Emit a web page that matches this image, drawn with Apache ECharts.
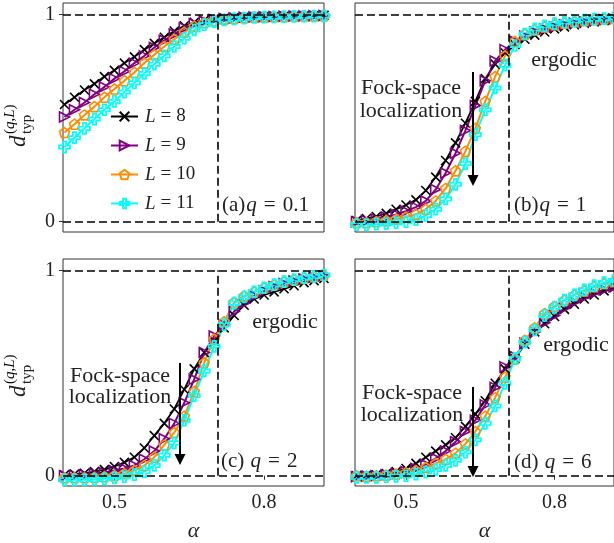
<!DOCTYPE html>
<html>
<head>
<meta charset="utf-8">
<script src="https://cdn.jsdelivr.net/npm/echarts@6/dist/echarts.min.js"></script>
<style>
html,body{margin:0;padding:0;background:#fff;}
#chart{width:614px;height:543px;}
</style>
</head>
<body>
<div id="chart"></div>
<script>
// ---------------- data ----------------
const alpha = [0.40,0.42,0.44,0.46,0.48,0.50,0.52,0.54,0.56,0.58,0.60,0.62,0.64,0.66,0.68,0.70,0.72,0.74,0.76,0.78,0.80,0.82,0.84,0.86,0.88,0.90,0.92];
const seriesNames = ['L = 8','L = 9','L = 10','L = 11'];
const xTicks = [0.5, 0.8];
const yTicks = [0, 1];
const alphaC = 0.7071;

// (a) q = 0.1
const aL8  = [0.565,0.60,0.635,0.665,0.70,0.73,0.765,0.795,0.83,0.86,0.89,0.92,0.945,0.962,0.972,0.978,0.982,0.985,0.987,0.988,0.989,0.990,0.991,0.992,0.993,0.994,0.995];
const aL9  = [0.505,0.54,0.575,0.615,0.65,0.69,0.725,0.765,0.80,0.84,0.875,0.905,0.935,0.955,0.968,0.975,0.98,0.983,0.986,0.988,0.989,0.99,0.991,0.992,0.993,0.994,0.995];
const aL10 = [0.43,0.47,0.515,0.555,0.60,0.64,0.68,0.72,0.765,0.805,0.845,0.88,0.915,0.943,0.96,0.97,0.977,0.981,0.984,0.986,0.988,0.989,0.99,0.991,0.992,0.993,0.994];
const aL11 = [0.36,0.405,0.45,0.495,0.54,0.58,0.625,0.67,0.715,0.76,0.80,0.845,0.885,0.925,0.95,0.965,0.973,0.978,0.982,0.985,0.987,0.988,0.989,0.99,0.991,0.992,0.993];
// (b) q = 1
const bL8  = [0.005,0.015,0.025,0.04,0.06,0.08,0.105,0.15,0.215,0.295,0.38,0.475,0.58,0.69,0.76,0.815,0.855,0.88,0.90,0.915,0.93,0.94,0.95,0.958,0.964,0.97,0.975];
const bL9  = [0.0,0.005,0.012,0.022,0.035,0.05,0.07,0.10,0.155,0.235,0.33,0.44,0.56,0.68,0.775,0.83,0.87,0.895,0.915,0.93,0.94,0.95,0.958,0.965,0.97,0.975,0.978];
const bL10 = [-0.005,-0.005,0.0,0.005,0.012,0.022,0.035,0.06,0.10,0.16,0.245,0.34,0.45,0.58,0.70,0.80,0.87,0.905,0.925,0.94,0.95,0.958,0.965,0.97,0.975,0.978,0.981];
const bL11 = [-0.015,-0.015,-0.012,-0.01,-0.005,0.0,0.01,0.03,0.06,0.11,0.18,0.28,0.42,0.54,0.645,0.755,0.85,0.905,0.93,0.945,0.955,0.962,0.968,0.973,0.977,0.98,0.983];
// (c) q = 2
const cL8  = [0.005,0.008,0.012,0.02,0.03,0.045,0.065,0.09,0.135,0.195,0.255,0.325,0.42,0.52,0.60,0.655,0.72,0.78,0.83,0.86,0.88,0.895,0.91,0.925,0.94,0.95,0.96];
const cL9  = [0.0,0.002,0.005,0.01,0.015,0.025,0.035,0.05,0.08,0.12,0.18,0.255,0.355,0.47,0.60,0.68,0.735,0.80,0.84,0.875,0.90,0.92,0.935,0.948,0.958,0.966,0.972];
const cL10 = [-0.01,-0.01,-0.01,-0.008,-0.005,0.0,0.01,0.025,0.05,0.09,0.15,0.21,0.29,0.41,0.55,0.665,0.75,0.845,0.875,0.895,0.915,0.93,0.945,0.955,0.963,0.97,0.976];
const cL11 = [-0.02,-0.02,-0.02,-0.018,-0.015,-0.01,-0.005,0.005,0.02,0.05,0.10,0.16,0.27,0.39,0.51,0.63,0.735,0.84,0.87,0.895,0.915,0.93,0.945,0.955,0.963,0.97,0.977];
// (d) q = 6
const dL8  = [0.0,0.002,0.005,0.01,0.02,0.035,0.06,0.09,0.12,0.15,0.185,0.24,0.30,0.365,0.45,0.52,0.57,0.64,0.70,0.74,0.775,0.81,0.835,0.86,0.88,0.90,0.915];
const dL9  = [-0.005,-0.002,0.0,0.005,0.01,0.02,0.035,0.055,0.085,0.12,0.165,0.215,0.27,0.345,0.43,0.53,0.58,0.645,0.70,0.745,0.78,0.815,0.845,0.87,0.89,0.905,0.92];
const dL10 = [0.0,-0.003,0.0,0.003,0.008,0.015,0.025,0.04,0.06,0.08,0.11,0.155,0.215,0.29,0.38,0.48,0.57,0.66,0.72,0.79,0.825,0.855,0.88,0.90,0.92,0.935,0.945];
const dL11 = [-0.008,-0.008,-0.008,-0.005,-0.003,0.0,0.008,0.018,0.03,0.05,0.075,0.115,0.175,0.255,0.34,0.45,0.57,0.65,0.71,0.78,0.82,0.855,0.88,0.905,0.925,0.94,0.95];

// ---------------- styling ----------------
const FONT = '"Liberation Serif", "DejaVu Serif", serif';
const markerStyles = [
  {color:'#000000', symbol:'path://M0,0L10,10M10,0L0,10', size:9, lw:1.8, bw:1.6},
  {color:'#800080', symbol:'path://M0,0L10,5L0,10Z', size:10, lw:2, bw:1.6},
  {color:'#ff8c00', symbol:'path://M5,0L10,3.8L8.1,10L1.9,10L0,3.8Z', size:10, lw:2, bw:1.6},
  {color:'#00ffff', symbol:'path://M3.5,0H6.5V3.5H10V6.5H6.5V10H3.5V6.5H0V3.5H3.5Z', size:11, lw:2, bw:1.7}
];

const panels = [
  {grid:{left:63, top:3, width:261, height:229}, data:[aL8,aL9,aL10,aL11], xLabels:false, yLabels:true},
  {grid:{left:355, top:3, width:261, height:229}, data:[bL8,bL9,bL10,bL11], xLabels:false, yLabels:false},
  {grid:{left:63, top:259, width:261, height:230}, data:[cL8,cL9,cL10,cL11], xLabels:true, yLabels:true},
  {grid:{left:355, top:259, width:261, height:230}, data:[dL8,dL9,dL10,dL11], xLabels:true, yLabels:false}
];

const grids = [], xAxes = [], yAxes = [], series = [];
panels.forEach((p, pi) => {
  grids.push(Object.assign({show:true, borderColor:'#333', borderWidth:1, backgroundColor:'transparent'}, p.grid));
  xAxes.push({
    type:'value', gridIndex:pi, min:0.397, max:0.92,
    axisLine:{show:false},
    axisTick:{show:p.xLabels, customValues:xTicks, length:4, lineStyle:{color:'#333'}},
    axisLabel:{show:p.xLabels, customValues:xTicks, formatter:v=>String(v), fontFamily:FONT, fontSize:20, color:'#222', margin:7},
    splitLine:{show:false},
    name: p.xLabels ? 'α' : '', nameLocation:'middle', nameGap:34,
    nameTextStyle:{fontFamily:FONT, fontStyle:'italic', fontSize:22, color:'#222'}
  });
  yAxes.push({
    type:'value', gridIndex:pi, min:-0.05, max:1.055,
    axisLine:{show:false},
    axisTick:{show:p.yLabels, customValues:yTicks, length:4, lineStyle:{color:'#333'}},
    axisLabel:{show:p.yLabels, customValues:yTicks, formatter:v=>String(v), fontFamily:FONT, fontSize:20, color:'#222', margin:8},
    splitLine:{show:false}
  });
  p.data.forEach((vals, si) => {
    const st = markerStyles[si];
    const s = {
      type:'line', name:seriesNames[si], xAxisIndex:pi, yAxisIndex:pi,
      data: alpha.map((a,i)=>[a, vals[i]]),
      symbol: st.symbol, symbolSize: st.size, showAllSymbol:true,
      lineStyle:{color:st.color, width:st.lw},
      itemStyle:{color:'rgba(255,255,255,0)', borderColor:st.color, borderWidth:st.bw},
      emphasis:{disabled:true},
      animation:false
    };
    if (si === 3) {
      s.markLine = {
        silent:true, symbol:'none', animation:false,
        label:{show:false},
        lineStyle:{color:'#000', type:[8,4], width:1.6},
        emphasis:{disabled:true},
        data:[{yAxis:0},{yAxis:1},[{coord:[alphaC,0]},{coord:[alphaC,1]}]]
      };
      s.z = 3;
    }
    series.push(s);
  });
});

function txt(x, y, text, size, extra) {
  return Object.assign({type:'text', x:x, y:y, silent:true, z:100,
    style:{text:text, font: size+'px '+FONT, fill:'#222', align:'center', verticalAlign:'middle', textAlign:'center', textVerticalAlign:'middle'}}, extra||{});
}
function richTxt(x, y, text, rich, align) {
  return {type:'text', x:x, y:y, silent:true, z:100,
    style:{text:text, rich:rich, fill:'#222', align:align||'left', verticalAlign:'middle', textAlign:align||'left', textVerticalAlign:'middle'}};
}
const qRich = {
  n:{fontFamily:FONT, fontSize:21, color:'#222'},
  i:{fontFamily:FONT, fontSize:21, fontStyle:'italic', color:'#222', padding:[0,0,0,1]},
  e:{fontFamily:FONT, fontSize:21, color:'#222', padding:[0,7,0,7]}
};
function yTitle(x, y) {
  return {type:'group', x:x, y:y, rotation:Math.PI/2, silent:true, z:100, children:[
    {type:'text', x:0, y:0, style:{text:'d', font:'italic 23px '+FONT, fill:'#222', align:'left', verticalAlign:'middle', textAlign:'left', textVerticalAlign:'middle'}},
    {type:'text', x:13, y:8, style:{text:'typ', font:'15px '+FONT, fill:'#222', align:'left', verticalAlign:'middle', textAlign:'left', textVerticalAlign:'middle'}},
    {type:'text', x:13, y:-9, style:{text:'{n|(}{i|q}{n|,}{i|L}{n|)}', rich:{n:{fontFamily:FONT,fontSize:15,color:'#222'}, i:{fontFamily:FONT,fontSize:15,fontStyle:'italic',color:'#222'}}, align:'left', verticalAlign:'middle', textAlign:'left', textVerticalAlign:'middle'}}
  ]};
}
function arrow(x, y1, y2) {
  return [
    {type:'line', silent:true, z:100, shape:{x1:x, y1:y1, x2:x, y2:y2-10}, style:{stroke:'#000', lineWidth:2}},
    {type:'polygon', silent:true, z:100, shape:{points:[[x-5.5,y2-11],[x+5.5,y2-11],[x,y2]]}, style:{fill:'#000'}}
  ];
}

const graphic = [
  yTitle(19, 147),
  yTitle(19, 397),
  richTxt(222, 205, '{n|(a)}{i|q}{e|=}{n|0.1}', qRich),
  richTxt(514, 205, '{n|(b)}{i|q}{e|=}{n|1}', qRich),
  richTxt(221, 461, '{n|(c) }{i|q}{e|=}{n|2}', qRich),
  richTxt(514, 462, '{n|(d) }{i|q}{e|=}{n|6}', qRich),
  txt(564, 60, 'ergodic', 22),
  txt(285, 322, 'ergodic', 22),
  txt(576, 345, 'ergodic', 22),
  txt(411, 88, 'Fock-space', 22),
  txt(411, 111, 'localization', 22),
  txt(120, 376, 'Fock-space', 22),
  txt(120, 397, 'localization', 22),
  txt(412, 393, 'Fock-space', 22),
  txt(412, 415, 'localization', 22)
].concat(arrow(473, 72, 186), arrow(180, 363, 465), arrow(473, 387, 477));

const chart = echarts.init(document.getElementById('chart'), null, {renderer:'canvas'});
chart.setOption({
  animation:false,
  backgroundColor:'#fff',
  grid:grids, xAxis:xAxes, yAxis:yAxes, series:series,
  legend:{
    show:true, orient:'vertical', left:105, top:102,
    itemWidth:27, itemHeight:12, itemGap:10,
    selectedMode:false,
    data:seriesNames,
    formatter: name => '{i|L}{e|=}{n|' + name.split('= ')[1] + '}',
    textStyle:{rich:{
      i:{fontFamily:FONT, fontSize:19, fontStyle:'italic', color:'#222', padding:[0,0,0,2]},
      e:{fontFamily:FONT, fontSize:19, color:'#222', padding:[0,5,0,5]},
      n:{fontFamily:FONT, fontSize:19, color:'#222'}
    }}
  },
  graphic:graphic
});
</script>
</body>
</html>
